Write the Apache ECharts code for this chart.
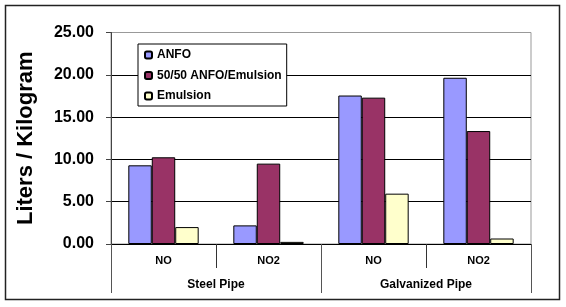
<!DOCTYPE html>
<html>
<head>
<meta charset="utf-8">
<script src="https://cdn.jsdelivr.net/npm/echarts@6/dist/echarts.min.js"></script>
<style>
  html, body { margin: 0; padding: 0; background: #fff; }
  #main { width: 566px; height: 307px; }
</style>
</head>
<body>
<div id="main"></div>
<script type="text/javascript">
// data
var subCategories = ['NO', 'NO2', 'NO', 'NO2'];
var groups = ['Steel Pipe', 'Galvanized Pipe'];
var anfo = [9.3, 2.2, 17.55, 19.65];
var mix = [10.25, 9.5, 17.3, 13.35];
var emulsion = [2.0, 0.25, 5.95, 0.65];
var seriesNames = ['ANFO', '50/50 ANFO/Emulsion', 'Emulsion'];
var yTicks = { min: 0, max: 25, interval: 5 };

var font = 'Arial, "Liberation Sans", sans-serif';
var myChart = echarts.init(document.getElementById('main'));

function bar(name, data, color) {
    return {
        name: name,
        type: 'bar',
        xAxisIndex: 0,
        data: data,
        barGap: '0%',
        barCategoryGap: '33%',
        itemStyle: { color: color, borderColor: '#000', borderWidth: 1 }
    };
}

var options = {
    animation: false,
    textStyle: { fontFamily: font },
    graphic: [{
        type: 'rect',
        shape: { x: 5.5, y: 5.5, width: 554, height: 294 },
        style: { fill: 'none', stroke: '#222', lineWidth: 1.5 }
    }],
    grid: {
        left: 111, right: 35, top: 32.5, bottom: 63,
        show: true, borderColor: '#999', borderWidth: 1
    },
    legend: {
        orient: 'vertical',
        left: 138, top: 44,
        padding: [4, 5, 3, 6],
        backgroundColor: '#fff',
        borderColor: '#000',
        borderWidth: 1,
        itemWidth: 7, itemHeight: 7,
        itemGap: 6.5,
        textStyle: { fontSize: 12, fontWeight: 'bold', color: '#000', fontFamily: font, lineHeight: 14 },
        data: seriesNames
    },
    xAxis: [{
        type: 'category',
        data: subCategories,
        position: 'bottom',
        axisLine: { show: true, lineStyle: { color: '#000', width: 1 } },
        axisTick: { show: true, interval: 0, length: 24, lineStyle: { color: '#333' } },
        axisLabel: { interval: 0, margin: 11, fontSize: 11, fontWeight: 'bold', color: '#000', fontFamily: font }
    }, {
        type: 'category',
        data: groups,
        position: 'bottom',
        axisLine: { show: false },
        axisTick: { show: true, interval: 0, length: 49, lineStyle: { color: '#555' } },
        axisLabel: { interval: 0, margin: 35, fontSize: 12, fontWeight: 'bold', color: '#000', fontFamily: font }
    }],
    yAxis: [{
        type: 'value',
        min: yTicks.min, max: yTicks.max, interval: yTicks.interval,
        name: 'Liters / Kilogram',
        nameLocation: 'middle',
        nameGap: 74,
        nameTextStyle: { fontSize: 22, fontWeight: 'bold', color: '#000', fontFamily: font },
        axisLine: { show: true, lineStyle: { color: '#444' } },
        axisTick: { show: true, length: 5, lineStyle: { color: '#444' } },
        axisLabel: { margin: 17, fontSize: 16, fontWeight: 'bold', color: '#000', fontFamily: font,
            formatter: function (v) { return v.toFixed(2); } },
        splitLine: { show: true, showMaxLine: false, lineStyle: { color: '#000', width: 1 } }
    }],
    series: [
        bar(seriesNames[0], anfo, '#9999FF'),
        bar(seriesNames[1], mix, '#993366'),
        bar(seriesNames[2], emulsion, '#FFFFCC')
    ]
};

myChart.setOption(options);
</script>
</body>
</html>
